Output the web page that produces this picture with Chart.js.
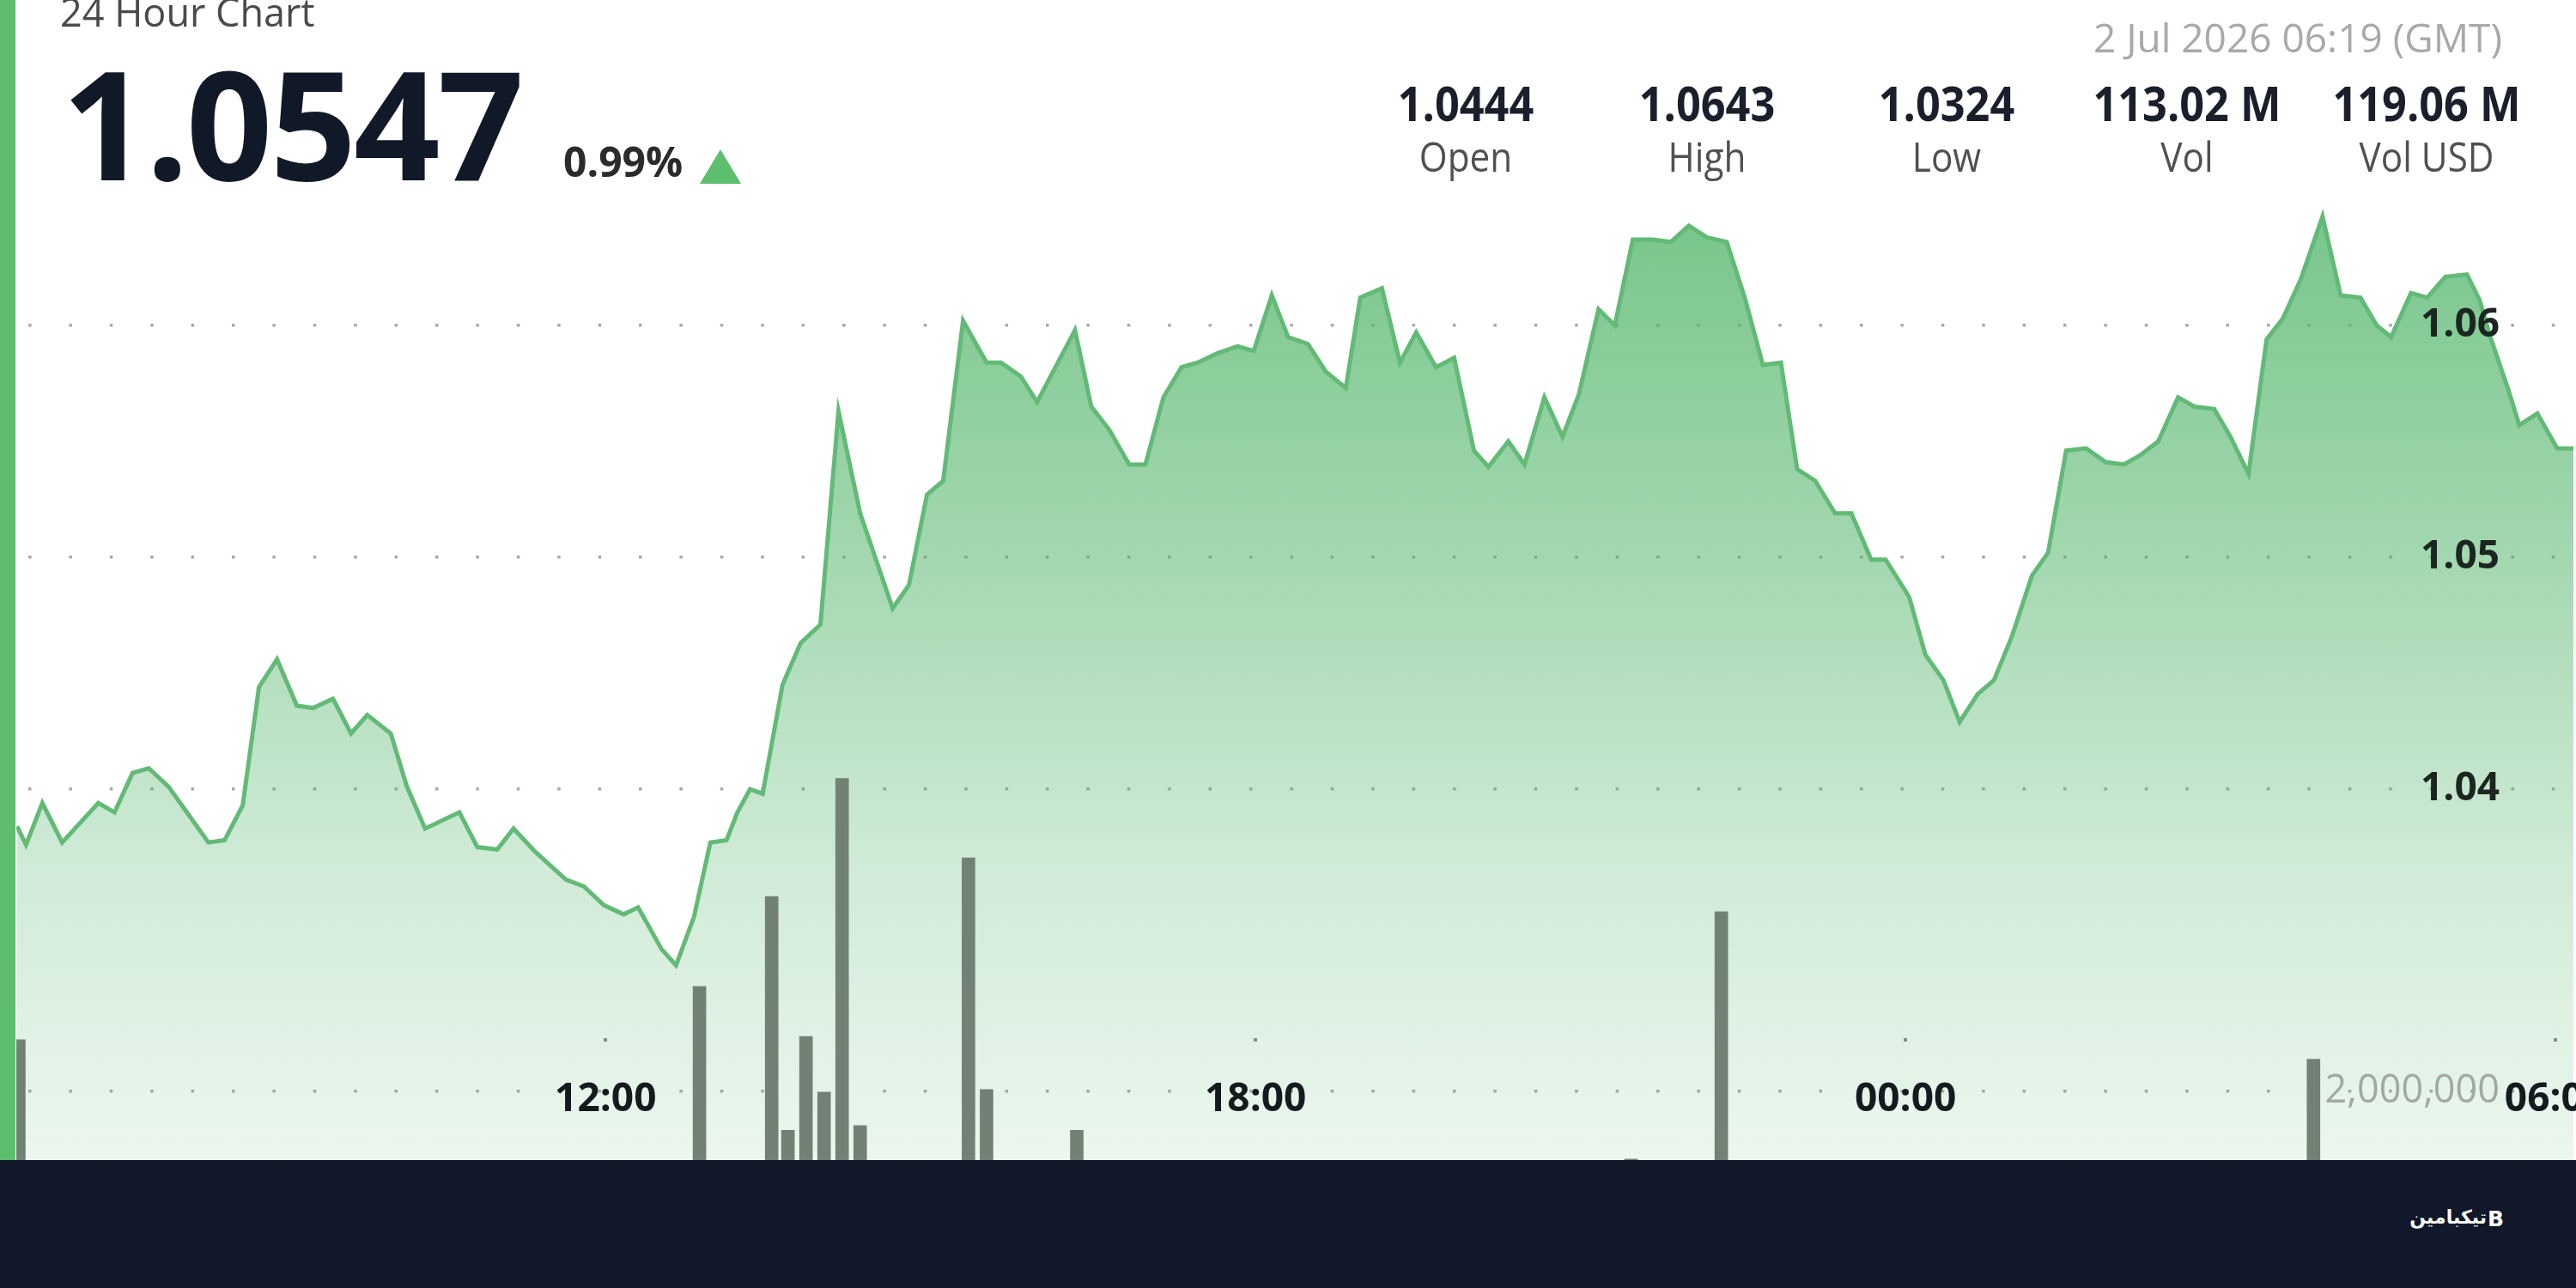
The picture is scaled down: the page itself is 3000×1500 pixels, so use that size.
<!DOCTYPE html>
<html>
<head>
<meta charset="utf-8">
<script src="https://cdn.jsdelivr.net/npm/chart.js@4.4.1/dist/chart.umd.min.js"></script>
<style>
  html, body { margin:0; padding:0; }
  body { width:3000px; height:1500px; overflow:hidden; background:#ffffff; position:relative; font-family:'Open Sans', sans-serif; }
  .t { position:absolute; line-height:1; white-space:nowrap; }
  .col { position:absolute; width:400px; text-align:center; line-height:1; white-space:nowrap; transform:scaleX(0.9); transform-origin:center; }
</style>
</head>
<body>
<canvas id="c" width="3000" height="1420" style="position:absolute;left:0;top:4px;width:3000px;height:1420px;"></canvas>

<div style="position:absolute;left:0;top:0;width:18px;height:1351px;background:#5dbe6e;"></div>

<div class="t" style="left:70px;top:-9px;font-size:45px;color:#4a4a4a;">24 Hour Chart</div>
<div class="t" style="left:72px;top:54px;font-size:176px;font-weight:700;color:#111827;letter-spacing:-3px;">1.0547</div>
<div class="t" style="left:656px;top:164px;font-size:48px;font-weight:700;color:#2b2b2b;">0.99%</div>
<div style="position:absolute;left:815px;top:174px;width:48px;height:40px;background:#5dbe6e;clip-path:polygon(50% 0,100% 100%,0 100%);"></div>

<div class="t" style="right:86px;top:20px;font-size:46px;color:#a9a9a9;">2 Jul 2026 06:19 (GMT)</div>

<div class="col" style="left:1507px;top:91px;font-size:56px;font-weight:700;color:#1a1f2b;">1.0444</div>
<div class="col" style="left:1507px;top:159px;font-size:47px;color:#505050;">Open</div>
<div class="col" style="left:1788px;top:91px;font-size:56px;font-weight:700;color:#1a1f2b;">1.0643</div>
<div class="col" style="left:1788px;top:159px;font-size:47px;color:#505050;">High</div>
<div class="col" style="left:2067px;top:91px;font-size:56px;font-weight:700;color:#1a1f2b;">1.0324</div>
<div class="col" style="left:2067px;top:159px;font-size:47px;color:#505050;">Low</div>
<div class="col" style="left:2347px;top:91px;font-size:56px;font-weight:700;color:#1a1f2b;">113.02 M</div>
<div class="col" style="left:2347px;top:159px;font-size:47px;color:#505050;">Vol</div>
<div class="col" style="left:2626px;top:91px;font-size:56px;font-weight:700;color:#1a1f2b;">119.06 M</div>
<div class="col" style="left:2626px;top:159px;font-size:47px;color:#505050;">Vol USD</div>

<div style="position:absolute;left:0;top:1351px;width:3000px;height:149px;background:#101829;"></div>
<div class="t" style="right:104px;top:1407px;font-size:22px;font-weight:700;color:#ffffff;font-family:'DejaVu Sans',sans-serif;direction:rtl;text-align:right;">تیکبامین</div>
<div class="t" style="left:2897px;top:1407px;font-size:25px;font-weight:700;color:#ffffff;font-family:'DejaVu Sans',sans-serif;">B</div>

<script>
// ---- data ----
const priceTimes = [
  "06:34","06:39","06:48","06:59","07:19","07:28","07:38","07:47","07:58","08:09",
  "08:20","08:29","08:39","08:48","08:58","09:09","09:18","09:29","09:39","09:48",
  "10:01","10:10","10:20","10:39","10:49","11:00","11:09","11:21","11:38","11:48",
  "11:59","12:10","12:18","12:31","12:39","12:49","12:58","13:07","13:13","13:20",
  "13:27","13:38","13:48","13:59","14:09","14:21","14:39","14:48","14:58","15:07",
  "15:18","15:31","15:39","15:50","15:59","16:20","16:29","16:39","16:50","16:59",
  "17:09","17:19","17:28","17:39","17:50","17:59","18:09","18:18","18:29","18:39",
  "18:50","18:58","19:10","19:20","19:29","19:40","19:50","20:01","20:09","20:20",
  "20:29","20:40","20:50","20:59","21:10","21:19","21:29","21:40","21:50","22:00",
  "22:10","22:21","22:31","22:41","22:51","23:00","23:10","23:21","23:30","23:41",
  "23:49","00:02","00:11","00:21","00:30","00:40","00:49","00:59","01:10","01:19",
  "01:29","01:40","01:51","02:01","02:10","02:20","02:31","02:40","02:51","03:00",
  "03:10","03:20","03:29","03:39","03:51","04:01","04:12","04:21","04:29","04:40",
  "04:49","04:59","05:11","05:18","05:24","05:34","05:40","05:50","06:01","06:10"
];
const priceValues = [
  1.0384,1.0376,1.0394,1.0377,1.0394,1.0390,1.0407,1.0409,1.0401,1.0389,
  1.0377,1.0378,1.0393,1.0444,1.0456,1.0436,1.0435,1.0439,1.0424,1.0432,
  1.0424,1.0401,1.0383,1.0390,1.0375,1.0374,1.0383,1.0373,1.0361,1.0358,
  1.0350,1.0346,1.0349,1.0331,1.0324,1.0345,1.0377,1.0378,1.0390,1.0400,
  1.0398,1.0445,1.0463,1.0471,1.0563,1.0519,1.0478,1.0488,1.0527,1.0533,
  1.0602,1.0584,1.0584,1.0578,1.0567,1.0598,1.0565,1.0555,1.0540,1.0540,
  1.0569,1.0582,1.0584,1.0588,1.0591,1.0589,1.0613,1.0595,1.0592,1.0580,
  1.0573,1.0612,1.0616,1.0584,1.0597,1.0582,1.0586,1.0546,1.0539,1.0550,
  1.0540,1.0569,1.0552,1.0570,1.0607,1.0600,1.0637,1.0637,1.0636,1.0643,
  1.0638,1.0636,1.0612,1.0583,1.0584,1.0538,1.0533,1.0519,1.0519,1.0499,
  1.0499,1.0483,1.0458,1.0447,1.0429,1.0441,1.0447,1.0466,1.0492,1.0502,
  1.0546,1.0547,1.0541,1.0540,1.0544,1.0550,1.0569,1.0565,1.0564,1.0552,
  1.0536,1.0594,1.0603,1.0620,1.0647,1.0613,1.0612,1.0600,1.0595,1.0614,
  1.0612,1.0621,1.0622,1.0611,1.0595,1.0572,1.0557,1.0562,1.0547,1.0547
];
const volumeTimes  = ["06:35","12:52","13:32","13:41","13:51","14:01","14:11","14:21","15:21","15:31","16:21","21:28","22:18","03:46"];
const volumeValues = [2790000,3600000,4970000,1410000,2840000,1990000,6770000,1480000,5560000,2030000,1410000,970000,4740000,2490000];

const timeTickHours = [12, 18, 24, 30];
const priceTicks    = [1.04, 1.05, 1.06];
const volumeTicks   = [2000000];

// axis windows
const xMin = 6.56, xMax = 30.19;
const priceMin = 1.0213, priceMax = 1.068;
const volMin = 0, volMax = 16500000;

// ---- helpers ----
function toHours(list) {
  let offset = 0, last = -Infinity;
  return list.map(s => {
    const [h, m] = s.split(':').map(Number);
    const raw = h + m / 60;
    if (raw < last) offset += 24;
    last = raw;
    return raw + offset;
  });
}
const priceHours = toHours(priceTimes);
const volumeHours = toHours(volumeTimes);
const pricePoints = priceHours.map((t, i) => ({x: t, y: priceValues[i]}));
const volumePoints = volumeHours.map((t, i) => ({x: t, y: volumeValues[i]}));

function fillGradient(ctx) {
  const chart = ctx.chart;
  const area = chart.chartArea;
  if (!area) return 'rgba(80,180,105,0.4)';
  const g = chart.ctx.createLinearGradient(0, area.top, 0, area.bottom);
  g.addColorStop(0.00, 'rgba(80,180,105,0.82)');
  g.addColorStop(0.07, 'rgba(80,180,105,0.77)');
  g.addColorStop(0.39, 'rgba(80,180,105,0.52)');
  g.addColorStop(0.67, 'rgba(80,180,105,0.27)');
  g.addColorStop(0.94, 'rgba(80,180,105,0.11)');
  g.addColorStop(1.00, 'rgba(80,180,105,0.09)');
  return g;
}

function flatX(s) { s.height = 0; s.paddingLeft = 0; s.paddingRight = 0; }
function flatY(s) { s.width = 0; s.paddingTop = 0; s.paddingBottom = 0; }

Chart.defaults.font.family = "'Open Sans', sans-serif";

new Chart(document.getElementById('c'), {
  type: 'line',
  data: {
    datasets: [
      {
        type: 'bar',
        data: volumePoints,
        yAxisID: 'yVol',
        backgroundColor: '#718275',
        barThickness: 15,
        order: 1
      },
      {
        type: 'line',
        data: pricePoints,
        yAxisID: 'y',
        borderColor: 'rgb(98,186,118)',
        borderWidth: 5,
        pointRadius: 0,
        tension: 0,
        fill: 'start',
        backgroundColor: fillGradient,
        order: 2
      }
    ]
  },
  options: {
    responsive: false,
    animation: false,
    events: [],
    layout: { padding: { left: 19, top: 159, right: 0, bottom: 0 } },
    plugins: { legend: { display: false }, tooltip: { enabled: false } },
    scales: {
      x: {
        type: 'linear',
        min: xMin, max: xMax,
        offset: false,
        afterFit: flatX,
        afterBuildTicks: s => { s.ticks = timeTickHours.map(v => ({value: v})); },
        grid: { color: 'rgba(110,110,110,0.8)', lineWidth: 4, drawTicks: false, offset: false },
        border: { display: false, dash: [4, 6000], dashOffset: 6004 - 1046 },
        ticks: {
          z: 1,
          mirror: true,
          padding: 116,
          autoSkip: false,
          maxRotation: 0,
          color: '#151a1f',
          font: { size: 46, weight: 'bold' },
          callback: v => String(((v % 24) + 24) % 24).padStart(2, '0') + ':00'
        }
      },
      y: {
        position: 'right',
        min: priceMin, max: priceMax,
        afterFit: flatY,
        afterBuildTicks: s => { s.ticks = priceTicks.map(v => ({value: v})); },
        grid: { color: 'rgba(140,140,140,0.75)', lineWidth: 3.5, drawTicks: false },
        border: { display: false, dash: [3.5, 43.9], dashOffset: 33.4 },
        ticks: {
          z: 1,
          mirror: true,
          padding: -89,
          color: '#1b2620',
          font: { size: 46, weight: 'bold' },
          callback: v => Number(v).toFixed(2)
        }
      },
      yVol: {
        position: 'right',
        min: volMin, max: volMax,
        afterFit: flatY,
        afterBuildTicks: s => { s.ticks = volumeTicks.map(v => ({value: v})); },
        grid: { color: 'rgba(140,140,140,0.75)', lineWidth: 3.5, drawTicks: false },
        border: { display: false, dash: [3.5, 43.9], dashOffset: 33.4 },
        ticks: {
          z: 1,
          mirror: true,
          padding: -89,
          color: '#a2a8a4',
          font: { size: 45 },
          callback: v => Number(v).toLocaleString('en-US')
        }
      }
    }
  }
});
</script>
</body>
</html>
